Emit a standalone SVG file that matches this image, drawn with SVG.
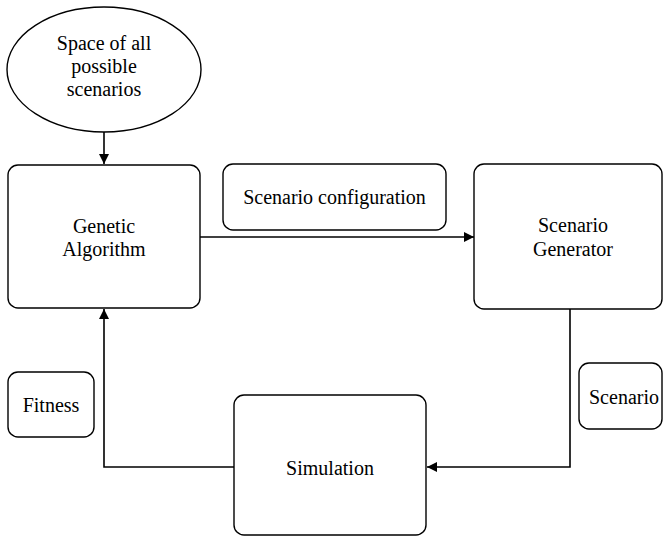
<svg xmlns="http://www.w3.org/2000/svg" width="663" height="537" viewBox="0 0 663 537">
<defs>
<style>
.box{fill:#fff;stroke:#000;stroke-width:1.4}
.c{fill:none;stroke:#000;stroke-width:1.6}
</style>
<marker id="ah" viewBox="0 0 10 10" refX="10" refY="5" markerWidth="10" markerHeight="10" markerUnits="userSpaceOnUse" orient="auto">
<path d="M0,0 L10,5 L0,10 z" fill="#000"/>
</marker>
</defs>
<rect width="663" height="537" fill="#fff"/>
<g id="connectors">
<line class="c" x1="104" y1="132" x2="104" y2="164" marker-end="url(#ah)"/>
<line class="c" x1="200" y1="237" x2="474" y2="237" marker-end="url(#ah)"/>
<polyline class="c" points="570,309 570,467 427,467" marker-end="url(#ah)"/>
<polyline class="c" points="234,467 104,467 104,309" marker-end="url(#ah)"/>
</g>
<g id="space">
<ellipse class="box" cx="104" cy="69.5" rx="97" ry="62.5"/>
<text font-family="Liberation Serif" font-size="20" text-anchor="middle" x="104" y="50">Space of all</text>
<text font-family="Liberation Serif" font-size="20" text-anchor="middle" x="104" y="73">possible</text>
<text font-family="Liberation Serif" font-size="20" text-anchor="middle" x="104" y="96">scenarios</text>
</g>
<g id="ga">
<rect class="box" x="8" y="165" width="192" height="143" rx="10"/>
<text font-family="Liberation Serif" font-size="20" text-anchor="middle" x="104" y="233">Genetic</text>
<text font-family="Liberation Serif" font-size="20" text-anchor="middle" x="104" y="256">Algorithm</text>
</g>
<g id="config">
<rect class="box" x="223" y="164" width="223" height="66" rx="10"/>
<text font-family="Liberation Serif" font-size="20" text-anchor="middle" x="334.5" y="204">Scenario configuration</text>
</g>
<g id="sg">
<rect class="box" x="474" y="164" width="188" height="145" rx="10"/>
<text font-family="Liberation Serif" font-size="20" text-anchor="middle" x="573" y="232">Scenario</text>
<text font-family="Liberation Serif" font-size="20" text-anchor="middle" x="573" y="256">Generator</text>
</g>
<g id="fitness">
<rect class="box" x="8" y="372" width="86" height="65" rx="10"/>
<text font-family="Liberation Serif" font-size="20" text-anchor="middle" x="51" y="412">Fitness</text>
</g>
<g id="scenario">
<rect class="box" x="579" y="363" width="83" height="66" rx="10"/>
<text font-family="Liberation Serif" font-size="20" text-anchor="middle" x="624" y="404">Scenario</text>
</g>
<g id="simulation">
<rect class="box" x="234" y="395" width="192" height="140" rx="10"/>
<text font-family="Liberation Serif" font-size="20" text-anchor="middle" x="330" y="475">Simulation</text>
</g>
</svg>
